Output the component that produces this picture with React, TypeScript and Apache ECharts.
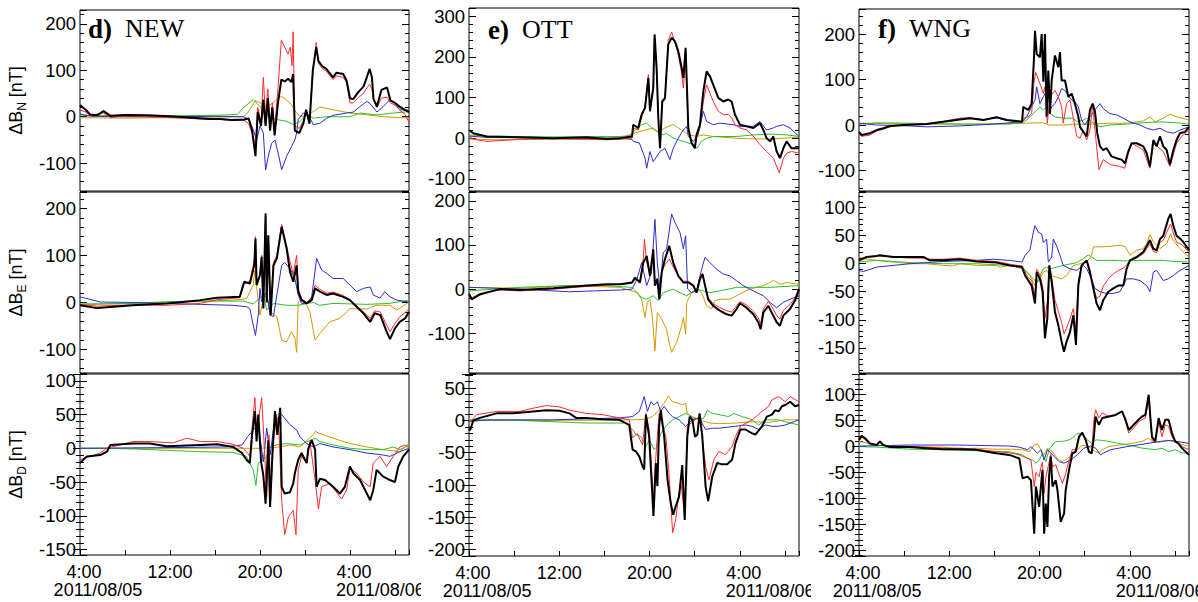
import React, { useEffect, useRef } from "react";
import * as echarts from "echarts";

// ---- axes (hours since 2011/08/05 04:00) ----
const X_MIN = 0;
const X_MAX = 29.25;
const X_TICK_STEP = 4;
const TICK_HOURS = [0, 8, 16, 24];
const TIME_LABELS = ["4:00", "12:00", "20:00", "4:00"];
const DATE_LABELS = ["2011/08/05", "2011/08/06"];
const DATE_LABEL_HOURS = [1.6, 26.7];

const STATIONS = ["NEW", "OTT", "WNG"];
const PANEL_LETTERS = ["d)", "e)", "f)"];
const COMPONENTS = ["N", "E", "D"];

const Y_MIN = [[-160, -150, -158], [-130, -190, -210], [-145, -195, -211]];
const Y_MAX = [[230, 235, 110], [320, 220, 72], [255, 128, 140]];
const Y_STEP = [[100, 100, 50], [100, 100, 50], [100, 50, 50]];

// order of drawing: gold, green, blue, red, black
const LINE_COLORS = ["#d19a00", "#2cbf2c", "#2b2bd0", "#ff2b2b", "#000000"];
const LINE_WIDTHS = [1, 1, 1, 1, 2];

// ---- NEW ----
const NEW_N_K = [[0,25],[0.5,15],[0.9,5],[1.5,3],[2.1,12],[2.7,2],[4,4],[6,3],[8,1],[10,-2],[11.5,-5],[12.5,-5],[13.5,-7],[14.6,-6],[15.0,-4],[15.3,-30],[15.6,-85],[15.8,10],[16.1,-20],[16.3,37],[16.5,-20],[16.7,40],[16.9,-30],[17.1,20],[17.3,-40],[17.6,30],[17.9,80],[18.2,76],[18.5,82],[18.8,75],[18.95,92],[19.1,-30],[19.5,-35],[19.85,-15],[20.1,15],[20.4,-15],[20.7,100],[21.0,150],[21.2,120],[21.5,110],[21.9,103],[22.5,85],[22.8,95],[23.4,92],[23.7,78],[24.0,40],[24.3,38],[24.7,52],[25.2,65],[25.5,85],[25.75,103],[25.95,85],[26.1,38],[26.4,22],[26.8,58],[27.3,63],[27.6,35],[28.0,30],[28.4,22],[28.9,15],[29.25,10]];
const NEW_N_R = [[0,15],[0.5,10],[0.9,3],[2.1,8],[2.7,-2],[4,2],[6,0],[8,-2],[10,-4],[11.5,-6],[12.5,-6],[13.5,-8],[14.6,-8],[15.0,-15],[15.3,-35],[15.6,-60],[15.8,20],[16.1,-10],[16.3,85],[16.5,0],[16.7,60],[16.9,-20],[17.1,30],[17.3,-30],[17.6,60],[17.9,165],[18.2,150],[18.5,135],[18.7,150],[18.85,110],[18.95,183],[19.1,-20],[19.5,-25],[19.85,-10],[20.1,10],[20.4,-10],[20.7,100],[21.0,160],[21.2,115],[21.5,105],[21.9,98],[22.5,80],[22.8,88],[23.4,85],[23.7,74],[24.0,30],[24.3,30],[24.7,40],[25.2,50],[25.5,62],[25.75,70],[25.95,60],[26.1,35],[26.4,20],[26.8,40],[27.3,42],[27.6,30],[28.0,25],[28.4,15],[28.9,5],[29.25,-12]];
const NEW_N_B = [[0,6],[1,1],[4,0],[8,0],[12,1],[14.5,0],[15.0,-5],[15.4,-28],[15.7,-50],[16.0,-20],[16.3,-35],[16.5,-115],[16.74,-85],[17.04,-57],[17.33,-50],[17.63,-80],[17.93,-114],[18.37,-85],[18.81,-64],[19.1,-50],[19.26,-35],[19.4,-6],[19.85,8],[20.3,4],[20.74,-17],[21.33,-14],[21.93,-3],[22.5,3],[23.7,8],[24.3,10],[24.9,22],[25.5,33],[25.8,28],[26.4,10],[26.96,22],[27.56,37],[28,28],[28.44,15],[29.25,14]];
const NEW_N_Y = [[0,-2],[4,-3],[8,-2],[12,-1],[14.5,0],[14.9,8],[15.6,35],[16.0,30],[16.6,20],[17.5,37],[17.93,44],[18.7,29],[19.26,8],[19.56,0],[20.15,3],[20.74,11],[21.33,21],[22.5,15],[24,8],[25.5,4],[27,0],[29.25,-3]];
const NEW_N_G = [[0,2],[4,3],[8,2],[12,3],[14,5],[14.5,19],[15.4,37],[16.0,22],[16.6,4],[17.5,-6],[18.4,-10],[18.96,-17],[19.26,-14],[19.56,-10],[20.15,4],[20.74,-3],[21.93,0],[24,0],[24.9,8],[26.4,4],[27.85,8],[29.25,11]];

const NEW_E_K = [[0,-6],[1.5,-12],[2.4,-10],[4.7,-6],[7.7,-2],[10.7,5],[12.2,10],[14.2,12],[14.6,44],[15.1,40],[15.5,80],[15.6,136],[15.7,37],[16.0,58],[16.15,97],[16.3,-13],[16.5,189],[16.6,0],[16.74,143],[16.95,-27],[17.2,79],[17.5,94],[17.93,161],[18.37,115],[18.67,65],[18.96,44],[19.26,79],[19.4,23],[19.7,5],[20.15,-2],[20.6,5],[20.9,30],[21.33,23],[21.93,16],[22.5,19],[23.4,12],[24,5],[24.6,-9],[25.2,-23],[25.8,-41],[26.2,-23],[26.7,-27],[27.26,-62],[27.56,-78],[28,-55],[28.44,-41],[28.9,-34],[29.25,-20]];
const NEW_E_R = [[0,-4],[1.5,-8],[2.4,-7],[4.7,-5],[7.7,-6],[10.7,-2],[12.2,6],[14.2,10],[14.6,40],[15.1,45],[15.5,90],[15.6,140],[15.7,40],[16.0,60],[16.15,100],[16.3,-10],[16.5,189],[16.6,5],[16.74,140],[16.95,-20],[17.2,85],[17.5,100],[17.93,166],[18.37,120],[18.67,87],[18.96,60],[19.26,100],[19.4,30],[19.7,8],[20.15,0],[20.6,8],[20.9,37],[21.33,28],[21.93,20],[22.5,22],[23.4,15],[24,5],[24.6,-8],[25.2,-20],[25.8,-34],[26.2,-18],[26.7,-20],[27.26,-48],[27.56,-62],[28,-45],[28.44,-30],[28.9,-22],[29.25,-13]];
const NEW_E_B = [[0,12],[1.8,1],[4.7,0],[10.7,-4],[13.6,-6],[14.8,-9],[15.1,-13],[15.4,-48],[15.6,-70],[15.85,-27],[16,30],[16.15,1],[16.44,16],[16.6,23],[16.9,-27],[17.2,-30],[17.5,16],[17.93,79],[18.2,85],[18.67,72],[19.1,51],[19.4,16],[19.7,-2],[20.15,-2],[20.6,12],[21.04,94],[21.48,69],[21.93,62],[22.5,51],[23.4,51],[24,37],[24.6,23],[25.2,30],[25.8,33],[26.07,16],[26.67,9],[27.1,23],[27.56,12],[28.15,5],[29.25,1]];
const NEW_E_Y = [[0,-5],[4.7,-2],[10.7,2],[13.6,5],[14.8,8],[15.4,37],[15.55,69],[15.85,2],[16.0,-27],[16.3,8],[16.6,15],[16.9,-20],[17.5,-30],[17.93,-80],[18.37,-84],[18.8,-62],[19.1,-76],[19.26,-106],[19.4,2],[19.7,5],[20.15,-6],[20.44,-20],[20.9,-80],[21.33,-66],[22.2,-41],[23.1,-34],[23.7,-20],[24.0,-13],[25.5,-14],[26.37,-6],[27.56,-6],[28.15,-16],[29.25,1]];
const NEW_E_G = [[0,-3],[4.7,-2],[8,2],[12,3],[14.5,3],[15.4,-3],[16.3,16],[16.6,-16],[17.2,-2],[18.4,-6],[19.4,-6],[20.2,-2],[20.74,0],[21.3,-6],[22.5,-2],[25.5,-4],[27.5,-2],[29.25,5]];

const NEW_D_K = [[0,-22],[0.6,-12],[1.8,-10],[2.4,-5],[2.7,5],[4.7,7],[6.2,7],[7.7,3],[10.7,5],[12.2,6],[13.6,2],[14.4,-7],[14.8,-17],[15.1,-22],[15.3,20],[15.55,55],[15.7,10],[15.85,50],[16.1,-20],[16.3,-40],[16.5,-82],[16.74,12],[16.9,-87],[17.1,-10],[17.33,55],[17.54,20],[17.8,60],[17.93,-57],[18.2,-67],[18.67,-65],[18.96,-52],[19.1,-37],[19.4,-17],[19.7,-7],[20.15,-22],[20.3,0],[20.6,12],[20.9,-2],[21.04,-57],[21.33,-45],[21.78,-47],[22.5,-57],[23.1,-67],[23.55,-57],[24,-27],[24.3,-37],[24.9,-47],[25.5,-67],[25.8,-77],[26.07,-62],[26.37,-32],[26.96,-42],[27.56,-47],[28,-50],[28.3,-27],[28.74,-12],[29.25,-2]];
const NEW_D_R = [[0,-17],[1.8,-7],[2.4,0],[4.7,10],[6.2,10],[8.3,8],[9.5,15],[10.7,10],[12.2,10],[13.6,6],[14.5,0],[14.8,-5],[15.1,-12],[15.3,30],[15.55,75],[15.7,20],[16.15,75],[16.3,30],[16.6,-72],[16.8,20],[16.95,-77],[17.2,10],[17.48,50],[17.7,20],[17.93,-77],[18.2,-128],[18.52,-102],[18.96,-92],[19.2,-128],[19.4,-32],[19.7,-12],[20.15,-22],[20.44,10],[20.9,-47],[21.2,-90],[21.48,-57],[22.2,-52],[22.8,-65],[23.26,-75],[23.7,-62],[24,-30],[24.6,-37],[25.2,-50],[25.8,-57],[26.07,-22],[26.67,-12],[27.26,-27],[27.85,-12],[28.44,2],[28.9,5],[29.25,0]];
const NEW_D_B = [[0,0],[8,1],[13,2],[14.4,5],[14.9,17],[15.4,27],[15.85,35],[16.3,-20],[16.6,30],[16.9,-10],[17.3,40],[17.93,50],[18.67,35],[19.26,27],[19.56,17],[20.15,7],[20.74,2],[21.33,7],[22.5,2],[24,-2],[25.5,-7],[26.96,-10],[27.56,-12],[28.44,-5],[29.25,0]];
const NEW_D_Y = [[0,0],[8,0],[14,0],[16,0],[17.78,2],[18.67,5],[19.56,2],[20.74,20],[20.9,25],[21.33,22],[22.5,15],[24,7],[25.5,2],[26.96,-2],[28.44,-5],[29.25,7]];
const NEW_D_G = [[0,0],[1.8,0],[4.7,-1],[7.7,-3],[10.7,-5],[13.6,-6],[14.8,-12],[15.4,-32],[15.64,-55],[15.85,-22],[16.3,-17],[16.6,-12],[16.9,2],[17.48,5],[18.37,7],[19.56,5],[20.9,15],[21.33,10],[22.5,5],[24,0],[25.5,-2],[26.96,-2],[27.85,2],[28.44,-2],[29.25,5]];

// ---- OTT ----
const OTT_N_K = [[0,20],[0.38,12],[1.57,4],[4.52,2],[7.47,0],[10.43,2],[12.2,-2],[13.38,0],[14.45,4],[14.56,33],[15,25],[15.3,58],[15.6,74],[15.9,148],[16.04,66],[16.33,123],[16.45,255],[16.63,173],[16.78,49],[16.93,-25],[17.13,90],[17.37,98],[17.66,230],[17.96,247],[18.26,238],[18.55,214],[18.85,173],[19,148],[19.2,222],[19.44,25],[19.73,-12],[20.02,-25],[20.17,8],[20.47,33],[20.77,115],[21.06,164],[21.36,152],[21.65,131],[22.1,99],[22.54,90],[22.98,95],[23.28,90],[23.57,58],[24.02,33],[24.6,29],[25.2,25],[25.79,37],[26.09,20],[26.38,0],[26.68,-8],[26.97,4],[27.27,-33],[27.56,-49],[27.86,-25],[28.15,-8],[28.6,-25],[29.25,-25]];
const OTT_N_R = [[0,5],[0.38,-3],[1.57,-8],[4.52,-3],[7.47,-2],[10.43,-3],[12.2,-4],[13.38,-3],[14.45,0],[14.56,25],[15,20],[15.3,50],[15.6,80],[15.9,156],[16.04,70],[16.33,130],[16.45,247],[16.63,170],[16.78,50],[16.93,-20],[17.13,95],[17.37,100],[17.66,240],[17.96,261],[18.26,235],[18.55,205],[18.85,160],[19,123],[19.2,200],[19.44,20],[19.73,-10],[20.02,-20],[20.17,5],[20.47,25],[20.77,90],[21.06,131],[21.36,110],[21.65,90],[22.1,66],[22.54,58],[22.98,58],[23.28,50],[23.57,33],[24.02,25],[24.6,20],[25.2,5],[25.79,-16],[26.38,-33],[26.97,-49],[27.5,-85],[27.86,-50],[28.15,-37],[28.6,-33],[29.25,-37]];
const OTT_N_B = [[0,5],[1.57,2],[7.47,0],[13.38,0],[14.45,-3],[14.56,-8],[15.1,-12],[15.6,-49],[15.75,-74],[16.04,-33],[16.33,-58],[16.93,-33],[17.37,-25],[17.8,-53],[18.1,-25],[18.55,0],[19,20],[19.3,29],[19.44,4],[19.9,-8],[20.3,8],[20.77,66],[21.06,41],[21.65,33],[22.25,37],[23.4,33],[24.02,29],[25.2,29],[25.79,41],[26.38,20],[26.97,25],[27.27,29],[27.86,33],[28.45,25],[29.25,4]];
const OTT_N_Y = [[0,-2],[2,-4],[7.5,-2],[13.4,0],[14.56,12],[16.33,25],[16.78,16],[17.66,29],[18.1,33],[18.55,25],[19,16],[19.6,8],[20.17,4],[20.77,8],[21.65,4],[23.6,0],[25.2,-2],[26.7,-2],[29.25,2]];
const OTT_N_G = [[0,8],[1.57,5],[7.47,3],[13.38,4],[14.45,6],[14.56,16],[15.3,33],[15.75,37],[16.2,25],[16.63,16],[17.2,8],[17.5,12],[18.1,0],[19,-8],[19.9,-16],[20.2,-25],[20.6,-8],[21.06,0],[21.65,4],[23.7,4],[25.2,8],[26.68,10],[28.15,8],[29.25,4]];

const OTT_E_K = [[0,-11],[0.24,-23],[0.97,-12],[1.57,-8],[2.16,-4],[2.75,0],[4.52,-2],[7.47,2],[10.43,8],[12.2,11],[13.4,11],[14.45,15],[14.72,26],[15.15,15],[15.45,60],[15.75,75],[16.04,30],[16.33,90],[16.48,8],[16.69,23],[16.87,-23],[17.08,38],[17.37,68],[17.75,98],[18.1,60],[18.55,30],[19,15],[19.44,15],[19.88,8],[20.17,-8],[20.47,23],[20.7,34],[20.92,8],[21.2,-23],[21.65,-38],[22.25,-49],[22.84,-57],[23.28,-60],[23.72,-45],[24.02,-32],[24.6,-42],[25.2,-57],[25.64,-75],[25.85,-91],[26.09,-53],[26.53,-38],[26.97,-60],[27.27,-75],[27.56,-83],[27.86,-60],[28.45,-45],[28.9,-26],[29.25,0]];
const OTT_E_R = [[0,-8],[0.24,-20],[0.97,-10],[1.57,-6],[2.75,-2],[4.52,-4],[7.47,0],[10.43,6],[12.2,9],[14.45,13],[14.72,22],[15.15,18],[15.45,70],[15.55,113],[15.75,60],[16.04,35],[16.33,85],[16.48,10],[16.69,25],[16.87,-18],[17.08,40],[17.37,55],[17.75,68],[18.1,50],[18.55,30],[19,18],[19.44,18],[19.88,10],[20.17,-5],[20.47,25],[20.7,36],[20.92,10],[21.2,-20],[21.65,-33],[22.25,-42],[22.84,-49],[23.28,-52],[23.72,-38],[24.02,-28],[24.6,-36],[25.2,-50],[25.64,-65],[25.85,-79],[26.09,-45],[26.53,-28],[26.97,-45],[27.27,-60],[27.56,-68],[27.86,-48],[28.45,-35],[28.9,-20],[29.25,4]];
const OTT_E_B = [[0,4],[4.52,0],[8.9,-6],[13.4,-2],[14.45,0],[14.9,23],[15.3,60],[15.75,8],[16.18,38],[16.48,158],[16.69,60],[16.93,0],[17.22,83],[17.51,90],[17.96,170],[18.26,151],[18.7,128],[19,91],[19.2,121],[19.38,0],[19.73,-8],[20.17,-4],[20.62,45],[20.92,72],[21.36,60],[21.95,45],[22.54,34],[23.13,30],[23.72,19],[24.3,8],[25.2,-4],[26.09,-15],[26.68,-30],[27.27,-42],[27.86,-30],[28.45,-23],[29.25,-15]];
const OTT_E_Y = [[0,4],[4.52,2],[8.9,8],[13.4,4],[14.9,-8],[15.3,-23],[15.6,-64],[15.8,-30],[16.04,-23],[16.27,-68],[16.48,-140],[16.69,-53],[17.08,-68],[17.51,-91],[17.8,-128],[17.96,-143],[18.4,-121],[18.85,-83],[19,-64],[19.2,-102],[19.3,-30],[19.73,-8],[20.17,0],[20.62,-8],[21.06,-38],[21.5,-45],[21.8,-26],[22.25,-23],[23.13,-23],[24.02,-11],[24.9,0],[26.09,8],[26.68,15],[26.97,20],[27.56,11],[28.15,15],[29.25,11]];
const OTT_E_G = [[0,-4],[4.52,4],[8.9,8],[11.9,8],[14.45,4],[14.9,-8],[15.3,-19],[15.75,-23],[16.33,-15],[16.78,-26],[17.22,-8],[17.66,-4],[18.1,0],[18.7,-8],[19.3,-15],[20.17,0],[21.36,-8],[22.25,-4],[23.72,4],[25.2,4],[26.7,4],[29.25,8]];

const OTT_D_K = [[0,-13],[0.1,-15],[0.38,0],[0.97,4],[2.44,11],[3.91,11],[5.68,14],[6.85,16],[8.03,15],[8.91,11],[9.5,4],[10.38,4],[11.85,2],[13.32,1],[14.2,-7],[14.5,-45],[14.8,-48],[15.1,-56],[15.38,-71],[15.53,-76],[15.68,9],[15.97,-25],[16.35,-148],[16.56,-66],[16.7,-102],[16.85,-9],[17,16],[17.3,-25],[17.6,-92],[17.88,-128],[18.1,-146],[18.32,-133],[18.62,-118],[18.9,-69],[19.12,-154],[19.35,-25],[19.56,6],[19.8,1],[20.03,-25],[20.24,-22],[20.44,11],[20.68,-25],[20.97,-102],[21.2,-125],[21.56,-87],[22,-66],[22.44,-68],[22.88,-68],[23.32,-61],[23.62,-35],[24.06,-14],[24.5,-14],[25.1,-20],[25.38,-22],[25.97,-9],[26.4,6],[26.85,9],[27.15,16],[27.44,14],[27.74,22],[28.03,24],[28.47,29],[28.9,22],[29.25,24]];
const OTT_D_R = [[0,-4],[0.68,9],[2.44,14],[4.5,14],[5.68,19],[6.85,23],[8.03,21],[8.91,16],[10.38,11],[11.85,9],[13.32,4],[14.2,1],[14.5,-27],[14.9,-20],[15.38,-38],[15.68,11],[15.97,-14],[16.35,-123],[16.56,-56],[16.85,11],[17.45,-25],[17.7,-76],[18.05,-174],[18.32,-154],[18.76,-92],[19.12,-148],[19.35,-9],[20.24,4],[20.44,6],[20.97,-71],[21.27,-92],[21.7,-61],[22.15,-48],[22.74,-53],[23.32,-40],[23.62,-25],[24.06,-9],[25.1,1],[25.97,14],[26.56,22],[26.85,32],[27.44,37],[28.03,29],[28.47,37],[29.25,29]];
const OTT_D_B = [[0,-2],[1.56,1],[7.5,1],[13.32,4],[14.5,6],[15.1,14],[15.53,37],[15.82,14],[16.12,29],[16.41,24],[16.7,29],[17,14],[17.3,22],[17.74,11],[18.03,6],[18.62,1],[19.2,-9],[19.8,1],[20.4,4],[20.97,-14],[21.56,-12],[22.15,-12],[23.62,-9],[24.5,-7],[25.1,-9],[25.68,-14],[26.27,-7],[26.85,-9],[27.44,-9],[28.03,-7],[29.25,1]];
const OTT_D_Y = [[0,0],[7.5,0],[14.5,1],[15.68,2],[16.26,6],[16.85,16],[17.3,27],[17.68,38],[18.03,29],[18.47,27],[18.9,24],[19.2,27],[19.35,11],[19.8,4],[20.4,1],[20.97,-2],[21.41,-4],[22.15,-5],[23.62,-4],[25.1,-2],[26.56,-3],[28.03,1],[29.25,1]];
const OTT_D_G = [[0,1],[4.5,0],[7.45,-2],[8.91,-3],[10.38,-4],[13.9,-4],[14.5,-14],[14.8,-22],[15.23,-25],[15.68,-40],[15.97,-30],[16.41,-45],[16.7,-40],[17,-20],[17.44,-9],[18.03,1],[18.62,6],[19.2,11],[19.8,6],[20.4,1],[20.82,4],[21.12,16],[21.56,11],[22.15,9],[23.03,6],[23.47,11],[24.21,6],[25.1,1],[25.68,-7],[26.27,1],[27.44,1],[28.03,-2],[29.25,-7]];

// ---- WNG ----
const WNG_N_K = [[0,-15],[0.24,-22],[0.97,-18],[1.57,-11],[2.16,-7],[2.75,-2],[3.93,0],[6,2],[7.47,7],[8.95,12],[9.84,15],[11.02,11],[12.2,17],[13.09,11],[13.97,9],[14.45,7],[14.56,40],[15,33],[15.3,47],[15.5,142],[15.6,207],[15.75,156],[16.04,149],[16.19,200],[16.34,95],[16.48,200],[16.63,18],[16.78,120],[16.93,25],[17.08,98],[17.37,153],[17.67,127],[17.81,160],[17.96,98],[18.26,98],[18.55,62],[18.85,69],[19.14,47],[19.44,18],[19.59,-4],[19.88,-15],[20.18,-25],[20.47,33],[20.71,47],[20.92,29],[21.12,-18],[21.36,-47],[21.65,-55],[21.95,-51],[22.39,-69],[22.84,-73],[23.28,-76],[23.57,-84],[23.87,-58],[24.17,-40],[24.61,-40],[25.2,-47],[25.5,-62],[25.79,-91],[26.09,-33],[26.38,-47],[26.68,-25],[26.97,-47],[27.27,-55],[27.56,-87],[27.86,-55],[28.15,-33],[28.45,-18],[28.89,-15],[29.25,-4]];
const WNG_N_R = [[0,-20],[0.24,-25],[0.97,-22],[1.57,-13],[2.16,-9],[2.75,-4],[3.93,0],[6,3],[7.47,8],[8.95,15],[9.84,16],[11.02,12],[12.2,16],[13.09,10],[13.97,8],[14.45,6],[14.56,15],[15,18],[15.3,25],[15.5,91],[15.65,116],[16.04,91],[16.34,69],[16.48,84],[16.69,4],[16.93,62],[17.37,76],[17.67,62],[17.96,40],[18.1,4],[18.4,47],[18.7,55],[19.14,-4],[19.3,-25],[19.59,-29],[19.88,-11],[20.18,-33],[20.47,-11],[20.71,44],[21.06,-47],[21.27,-98],[21.65,-76],[22.25,-87],[23.13,-91],[23.57,-95],[23.87,-62],[24.17,-40],[25.2,-55],[25.79,-95],[26.09,-40],[26.97,-58],[27.56,-91],[28.15,-40],[28.6,-25],[29.25,-11]];
const WNG_N_B = [[0,4],[1.57,0],[4.52,-2],[6,-4],[8.95,-2],[11.9,2],[14.45,7],[14.86,18],[15.15,33],[15.6,55],[15.75,84],[16.04,47],[16.34,62],[16.63,76],[16.78,25],[17.08,40],[17.37,47],[17.67,62],[17.96,80],[18.26,76],[18.55,65],[18.85,55],[19.14,51],[19.44,40],[19.73,11],[20.03,0],[20.47,18],[20.92,33],[21.36,47],[21.65,36],[22.25,25],[22.84,22],[23.43,15],[24.02,7],[24.9,0],[25.5,-7],[26.09,-11],[26.68,-7],[27.27,-15],[27.86,-18],[28.45,-11],[29.25,-4]];
const WNG_N_Y = [[0,4],[4.5,2],[10.4,2],[14.5,4],[16.3,5],[16.9,0],[18.1,0],[19.3,2],[20.77,2],[22.25,4],[23.7,4],[25.2,9],[25.79,18],[26.24,7],[26.97,15],[27.56,24],[28.15,18],[29.25,11]];
const WNG_N_G = [[0,2],[1.57,5],[4.52,4],[8.95,2],[13.4,2],[14.45,5],[14.86,11],[15.45,25],[16.04,40],[16.34,33],[16.63,40],[16.93,25],[17.37,18],[18.1,15],[19.0,15],[19.3,7],[19.88,11],[20.18,15],[20.62,7],[21.06,0],[21.36,-4],[22.25,0],[23.7,2],[25.2,5],[26.68,7],[28.15,5],[29.25,2]];

const WNG_E_K = [[0,6],[0.68,12],[1.57,14],[1.85,15],[3.04,12],[4.52,12],[5.7,12],[6.29,6],[7.47,6],[8.95,8],[10.43,4],[12.2,2],[13.38,-3],[14.45,-6],[14.72,-21],[15.01,-30],[15.3,-39],[15.6,-71],[15.75,-15],[16.04,-27],[16.28,-50],[16.48,-133],[16.69,-98],[16.87,-3],[17.08,-33],[17.37,-86],[17.67,-110],[17.96,-139],[18.17,-157],[18.4,-139],[18.7,-122],[19,-92],[19.23,-145],[19.44,-39],[19.73,-3],[20.18,6],[20.47,-15],[20.77,-44],[21.06,-71],[21.36,-83],[21.65,-65],[22.1,-50],[22.54,-44],[22.98,-39],[23.43,-39],[23.72,-9],[24.02,6],[24.61,12],[25.2,21],[25.79,42],[26.09,27],[26.38,24],[26.68,44],[26.97,50],[27.41,80],[27.62,89],[27.86,68],[28.15,50],[28.45,45],[28.74,39],[29.25,24]];
const WNG_E_R = [[0,8],[0.68,12],[1.57,14],[3.04,12],[4.52,10],[5.7,10],[6.29,8],[7.47,8],[8.95,10],[10.43,6],[12.2,4],[13.38,-1],[14.45,-4],[14.72,-15],[15.01,-25],[15.3,-30],[15.6,-56],[15.75,-10],[16.04,-20],[16.28,-40],[16.48,-98],[16.69,-68],[16.87,-3],[17.08,-25],[17.37,-65],[17.67,-85],[17.96,-105],[18.17,-125],[18.4,-115],[18.7,-98],[19,-80],[19.23,-120],[19.44,-30],[19.73,-3],[20.18,6],[20.47,-12],[20.77,-40],[21.06,-62],[21.36,-58],[21.65,-40],[22.1,-27],[22.54,-18],[22.98,-12],[23.43,-8],[23.72,-2],[24.02,6],[24.61,10],[25.2,18],[25.79,35],[26.09,22],[26.38,20],[26.68,38],[26.97,42],[27.41,62],[27.62,71],[27.86,55],[28.15,38],[28.45,36],[28.74,32],[29.25,20]];
const WNG_E_B = [[0,-12],[0.38,-14],[1.57,-6],[3.04,-3],[4.52,0],[7.47,4],[10.43,6],[11.9,8],[13.38,6],[14.45,3],[14.72,15],[15.15,24],[15.45,56],[15.6,68],[15.9,56],[16.19,53],[16.34,38],[16.63,44],[16.78,3],[17.08,12],[17.22,44],[17.51,32],[17.81,15],[18.1,-3],[18.7,-9],[19.3,-12],[19.88,-3],[20.18,-9],[20.47,-21],[20.92,-44],[21.36,-50],[21.95,-53],[22.54,-53],[23.13,-50],[23.72,-27],[24.3,-27],[24.9,-30],[25.5,-39],[25.79,-50],[26.09,-15],[26.38,-12],[26.68,-21],[26.97,-30],[27.41,-27],[27.86,-21],[28.45,-12],[29.25,-3]];
const WNG_E_Y = [[0,12],[0.38,9],[1.57,6],[4.52,0],[6,0],[7.47,-3],[8.3,-4],[8.95,0],[10.43,-3],[12.2,-3],[12.5,-6],[13.38,-3],[14.56,-9],[15.15,-21],[15.6,-39],[16.04,-27],[16.34,-15],[16.63,-12],[16.93,-21],[17.51,-24],[17.96,-27],[18.4,-21],[18.7,-12],[19,-3],[19.59,0],[20.18,3],[20.62,15],[20.77,30],[21.36,30],[22.25,31],[23.13,33],[23.57,31],[23.87,21],[24.02,15],[24.61,24],[25.2,27],[25.5,36],[25.79,52],[26.09,39],[26.68,27],[27.27,36],[27.62,53],[27.86,41],[28.45,27],[29.04,15],[29.25,12]];
const WNG_E_G = [[0,3],[1.57,6],[4.52,2],[7.47,0],[10.43,0],[13.38,-3],[14.45,-6],[14.9,-15],[15.3,-24],[15.75,-33],[16.04,-21],[16.34,-9],[16.63,-6],[16.93,-9],[17.51,-6],[18.1,-3],[19.3,2],[19.88,9],[20.33,16],[20.62,12],[21.06,6],[22.25,6],[23.72,5],[25.2,6],[26.68,6],[28.15,4],[29.25,3]];

const WNG_D_K = [[0,13],[0.24,21],[0.53,16],[0.97,6],[1.56,3],[1.85,10],[2.15,3],[2.74,-1],[4.5,-1],[5.97,-3],[7.44,-5],[8.91,-5],[10.38,-6],[11.85,-12],[13.32,-16],[14.21,-23],[14.5,-61],[14.94,-58],[15.24,-65],[15.53,-168],[15.68,-77],[15.97,-116],[16.12,-77],[16.26,-45],[16.41,-168],[16.56,-110],[16.7,-155],[16.85,-58],[17,-19],[17.15,-77],[17.44,-65],[17.59,-84],[17.88,-145],[18.18,-129],[18.32,-84],[18.62,-45],[18.91,-13],[19.21,-10],[19.5,19],[19.79,27],[20.09,13],[20.38,-10],[20.62,-13],[20.82,19],[20.97,58],[21.26,42],[21.56,55],[22.15,58],[22.74,61],[23.32,68],[23.62,52],[23.91,32],[24.35,42],[24.79,52],[25.09,58],[25.38,61],[25.68,100],[25.82,58],[25.97,19],[26.26,10],[26.56,55],[26.85,32],[27.15,52],[27.44,52],[27.74,26],[28.03,10],[28.32,6],[28.62,-3],[29.25,-16]];
const WNG_D_R = [[0,10],[0.24,18],[0.53,14],[0.97,5],[1.56,3],[1.85,8],[2.15,2],[2.74,0],[4.5,0],[5.97,-1],[7.44,-3],[8.91,-3],[10.38,-5],[11.85,-9],[13.32,-12],[14.21,-16],[14.5,-19],[14.94,-22],[15.24,-26],[15.53,-77],[15.68,-50],[15.97,-58],[16.12,-40],[16.26,-30],[16.41,-90],[16.56,-60],[16.7,-45],[16.85,-30],[17,-15],[17.15,-39],[17.44,-35],[17.59,-45],[17.88,-62],[18.03,-71],[18.32,-52],[18.62,-26],[18.91,-6],[19.21,-6],[19.5,16],[19.79,26],[20.09,13],[20.38,-10],[20.62,-13],[20.82,52],[20.97,71],[21.26,55],[21.56,65],[22.15,58],[22.74,61],[23.32,68],[23.62,48],[23.91,26],[24.35,36],[24.79,48],[25.09,52],[25.38,55],[25.68,90],[25.82,50],[25.97,13],[26.26,10],[26.56,48],[26.85,19],[27.15,42],[27.44,39],[27.74,19],[28.03,10],[28.32,6],[28.62,0],[29.25,-6]];
const WNG_D_B = [[0,1],[4.5,3],[8.91,3],[13.32,1],[14.2,-1],[14.94,-6],[15.24,0],[15.82,-13],[16.12,-6],[16.41,-26],[16.7,-6],[17.3,-19],[17.74,-29],[18.18,-32],[18.76,-26],[19.35,-16],[19.94,-3],[20.53,1],[20.97,-3],[21.41,-16],[21.7,-12],[22.3,-6],[23.77,0],[25.24,5],[26.7,10],[27.6,12],[28.2,10],[29.25,6]];
const WNG_D_Y = [[0,10],[1.56,3],[4.5,0],[5.97,-1],[7.44,-1],[8.91,-5],[10.38,-3],[11.85,-5],[13.32,-5],[14.5,-6],[15.1,-10],[15.53,3],[15.82,5],[16.12,-6],[16.41,-16],[16.7,-3],[17.15,-10],[17.59,-23],[18.03,-29],[18.47,-23],[18.91,-16],[19.21,-10],[19.79,3],[20.38,0],[20.97,-10],[21.26,-12],[21.56,-6],[22.15,0],[23.03,3],[23.91,5],[25.09,10],[25.68,16],[25.97,10],[26.56,8],[27.44,12],[28.03,8],[29.25,0]];
const WNG_D_G = [[0,0],[1.56,-1],[4.5,-5],[7.44,-6],[10.38,-8],[13.32,-10],[14.5,-16],[14.94,-23],[15.38,-26],[15.68,-32],[15.97,-26],[16.26,-13],[16.56,-29],[16.85,-6],[17.15,3],[17.44,10],[18.03,10],[18.62,13],[18.91,16],[19.21,23],[19.5,26],[19.79,23],[20.38,10],[20.68,6],[20.97,13],[21.56,12],[22.15,10],[23.03,6],[23.91,3],[25.09,-3],[26.26,-6],[26.85,-3],[27.44,-10],[28.03,-6],[28.62,-12],[29.25,-13]];

// panel -> [gold, green, blue, red, black]
const PANELS = [
  [
    [NEW_N_Y, NEW_N_G, NEW_N_B, NEW_N_R, NEW_N_K],
    [NEW_E_Y, NEW_E_G, NEW_E_B, NEW_E_R, NEW_E_K],
    [NEW_D_Y, NEW_D_G, NEW_D_B, NEW_D_R, NEW_D_K],
  ],
  [
    [OTT_N_Y, OTT_N_G, OTT_N_B, OTT_N_R, OTT_N_K],
    [OTT_E_Y, OTT_E_G, OTT_E_B, OTT_E_R, OTT_E_K],
    [OTT_D_Y, OTT_D_G, OTT_D_B, OTT_D_R, OTT_D_K],
  ],
  [
    [WNG_N_Y, WNG_N_G, WNG_N_B, WNG_N_R, WNG_N_K],
    [WNG_E_Y, WNG_E_G, WNG_E_B, WNG_E_R, WNG_E_K],
    [WNG_D_Y, WNG_D_G, WNG_D_B, WNG_D_R, WNG_D_K],
  ],
];

// ---- layout ----
const COL_LEFT = [0, 421, 811];
const COL_WIDTH = [421, 390, 387];
const GRID_LEFT = [80, 48, 48];
const GRID_WIDTH = [329, 330, 330];
const ROW_TOP = [[10, 192, 374], [8, 192, 374], [9, 192, 374]];
const ROW_BOTTOM = [[191, 373, 555], [191, 373, 556], [191, 373, 556]];
const TITLE_LEFT = [88, 67, 67];
const TITLE_TOP = [15, 16, 15];

const SANS = "'Liberation Sans', Arial, Helvetica, sans-serif";
const SERIF = "'Liberation Serif', 'Times New Roman', serif";
const TICK_FONT = 18.5;
const X_FONT = 18;

function buildOption(c: number) {
  const grid: any[] = [];
  const xAxis: any[] = [];
  const yAxis: any[] = [];
  const series: any[] = [];
  const lbl = { fontFamily: SANS, fontSize: X_FONT, lineHeight: X_FONT, color: "#000" };
  for (let r = 0; r < 3; r++) {
    const top = ROW_TOP[c][r];
    grid.push({
      left: GRID_LEFT[c],
      width: GRID_WIDTH[c],
      top,
      height: ROW_BOTTOM[c][r] - top,
      containLabel: false,
      outerBoundsMode: "none",
      show: true,
      borderColor: "#000",
      borderWidth: 1,
      backgroundColor: "transparent",
    });
    const bottomRow = r === 2;
    xAxis.push({
      type: "value",
      gridIndex: r,
      min: X_MIN,
      max: X_MAX,
      interval: X_TICK_STEP,
      axisLine: { show: false, onZero: false },
      splitLine: { show: false },
      axisTick: { show: bottomRow, inside: true, length: 5, lineStyle: { color: "#000", width: 1 } },
      axisLabel: {
        show: bottomRow,
        margin: 8,
        ...lbl,
        formatter: (v: number) => {
          const i = TICK_HOURS.indexOf(v);
          if (i < 0) return "";
          const t = TIME_LABELS[i];
          return t === "4:00" ? `{t0|${t}}` : `{t|${t}}`;
        },
        rich: {
          t: { ...lbl },
          t0: { ...lbl, padding: [0, 0, 0, 8] },
        },
      },
    });
    const step = Y_STEP[c][r];
    const base = {
      type: "value",
      gridIndex: r,
      min: Y_MIN[c][r],
      max: Y_MAX[c][r],
      minInterval: step,
      maxInterval: step,
      axisLine: { show: false },
      splitLine: { show: false },
      axisTick: { show: true, inside: true, length: 7, lineStyle: { color: "#000", width: 1 } },
      minorTick: { show: true, splitNumber: 5, length: 4, lineStyle: { color: "#000", width: 1 } },
    };
    const left: any = {
      ...base,
      position: "left",
      axisLabel: {
        show: true,
        margin: 4,
        color: "#000",
        fontFamily: SANS,
        fontSize: TICK_FONT,
        formatter: (v: number) => {
          const q = v / step;
          return Math.abs(q - Math.round(q)) < 1e-9 ? String(Math.round(v)) : "";
        },
      },
    };
    if (c === 0) {
      left.name = `{a|ΔB}{s|${COMPONENTS[r]}}{a| [nT]}`;
      left.nameLocation = "middle";
      left.nameRotate = 90;
      left.nameGap = 48;
      left.nameTextStyle = {
        color: "#000",
        fontFamily: SANS,
        fontSize: 18,
        rich: {
          a: { fontFamily: SANS, fontSize: 18, color: "#000", lineHeight: 24, verticalAlign: "middle" },
          s: { fontFamily: SANS, fontSize: 12, color: "#000", lineHeight: 24, verticalAlign: "bottom" },
        },
      };
    }
    yAxis.push(left);
    yAxis.push({ ...base, position: "right", axisLabel: { show: false } });

    const lines = PANELS[c][r];
    lines.forEach((d, k) => {
      series.push({
        type: "line",
        xAxisIndex: r,
        yAxisIndex: r * 2,
        data: d,
        showSymbol: false,
        symbol: "none",
        silent: true,
        clip: true,
        lineStyle: { color: LINE_COLORS[k], width: LINE_WIDTHS[k] },
        z: 2 + k,
      });
    });
  }
  // date line under the bottom panel's time labels
  xAxis.push({
    type: "value",
    gridIndex: 2,
    position: "bottom",
    min: X_MIN,
    max: X_MAX,
    interval: X_TICK_STEP,
    axisLine: { show: false, onZero: false },
    splitLine: { show: false },
    axisTick: { show: false },
    axisLabel: {
      show: true,
      margin: 26,
      ...lbl,
      customValues: DATE_LABEL_HOURS,
      formatter: (v: number) => {
        const i = DATE_LABEL_HOURS.findIndex((h) => Math.abs(h - v) < 1e-6);
        return i < 0 ? "" : DATE_LABELS[i];
      },
    },
  });
  return {
    animation: false,
    backgroundColor: "#fff",
    textStyle: { fontFamily: SANS },
    grid,
    xAxis,
    yAxis,
    series,
    graphic: [
      {
        type: "text",
        left: TITLE_LEFT[c],
        top: TITLE_TOP[c],
        z: 100,
        style: {
          text: `{b|${PANEL_LETTERS[c]}}{n|${STATIONS[c]}}`,
          fontFamily: SERIF,
          fontSize: 26,
          fill: "#000",
          rich: {
            b: { fontFamily: SERIF, fontSize: 27, fontWeight: "bold", fill: "#000" },
            n: { fontFamily: SERIF, fontSize: 26, fill: "#000", padding: [0, 0, 0, 13] },
          },
        },
      },
    ],
  };
}

export default function App() {
  const r0 = useRef<HTMLDivElement>(null);
  const r1 = useRef<HTMLDivElement>(null);
  const r2 = useRef<HTMLDivElement>(null);
  useEffect(() => {
    const refs = [r0, r1, r2];
    const charts = refs.map((ref, c) => {
      const ch = echarts.init(ref.current as HTMLDivElement, undefined, { renderer: "svg" });
      ch.setOption(buildOption(c));
      return ch;
    });
    return () => charts.forEach((ch) => ch.dispose());
  }, []);
  const refs = [r0, r1, r2];
  return (
    <div style={{ position: "absolute", left: 0, top: 0, width: 1198, height: 602, background: "#fff", overflow: "hidden" }}>
      {COL_LEFT.map((l, c) => (
        <div
          key={c}
          ref={refs[c]}
          style={{ position: "absolute", left: l, top: 0, width: COL_WIDTH[c], height: 602, overflow: "hidden" }}
        />
      ))}
    </div>
  );
}
